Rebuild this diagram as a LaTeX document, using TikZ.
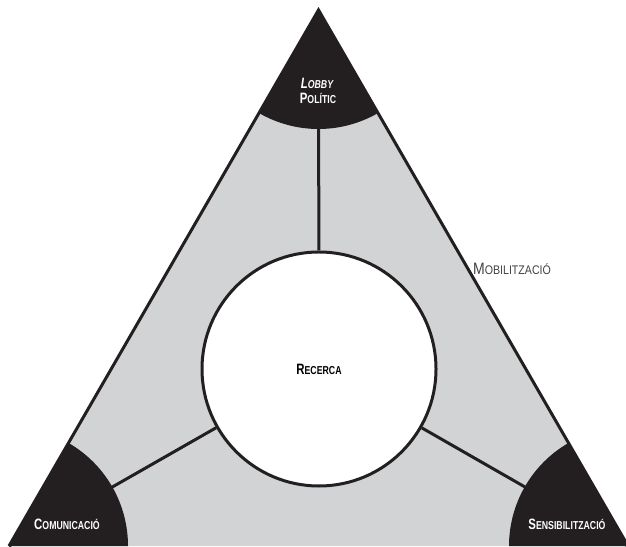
\documentclass[tikz,border=0pt]{standalone}
\usepackage{fontspec}
\setmainfont{Liberation Sans}
\definecolor{grisfons}{RGB}{209,211,212}
\definecolor{negre}{RGB}{35,31,32}
\newcommand{\versal}[2]{{\fontsize{15}{15}\selectfont #1}{\fontsize{11.5}{11.5}\selectfont #2}}
\newcommand{\estret}[1]{\scalebox{0.76}[1]{#1}}
\tikzset{
  vora/.style={draw=negre, line width=3pt},
  etiq/.style={font=\bfseries, inner sep=0pt},
}

\begin{document}
\begin{tikzpicture}[x=1pt,y=1pt]
\useasboundingbox (0,0) rectangle (626,546);
\clip (0,0) rectangle (626,546);
\coordinate (dalt) at (318.5,536);
\coordinate (esq) at (9,0);
\coordinate (dre) at (628,0);
\coordinate (mig) at (319,177);
% fons del triangle
\fill[grisfons] (esq) -- (dalt) -- (dre) -- cycle;
\node[circle, vora, fill=white, minimum size=234pt, etiq] (recerca) at (mig) {\estret{\versal{R}{ECERCA}}};
% radis
\draw[vora] (recerca) -- (dalt);
\draw[vora] (recerca) -- (esq);
\draw[vora] (recerca) -- (dre);
% sectors dels vertexs
\fill[negre] (dalt) -- ++(240:119) arc[start angle=240, end angle=300, radius=119] -- cycle;
\fill[negre] (esq) -- ++(0:119) arc[start angle=0, end angle=60, radius=119] -- cycle;
\fill[negre] (dre) -- ++(120:119) arc[start angle=120, end angle=180, radius=119] -- cycle;
\draw[vora] (esq) -- (dalt) -- (dre);
% etiquetes
\node[etiq, text=white] (lobby) at (317,463) {\estret{\itshape\versal{L}{OBBY}}};
\node[etiq, text=white] (politic) at (318,448) {\estret{\versal{P}{OLÍTIC}}};
\node[etiq, text=white] (comunicacio) at (67,22) {\estret{\versal{C}{OMUNICACIÓ}}};
\node[etiq, text=white] (sensibilitzacio) at (567,22) {\estret{\versal{S}{ENSIBILITZACIÓ}}};
\node[inner sep=0pt, text=negre!85] (mobilitzacio) at (512,277) {\scalebox{0.85}[1]{{\fontsize{16.5}{16.5}\selectfont M}{\fontsize{12.5}{12.5}\selectfont OBILITZACIÓ}}};
\end{tikzpicture}
\end{document}
